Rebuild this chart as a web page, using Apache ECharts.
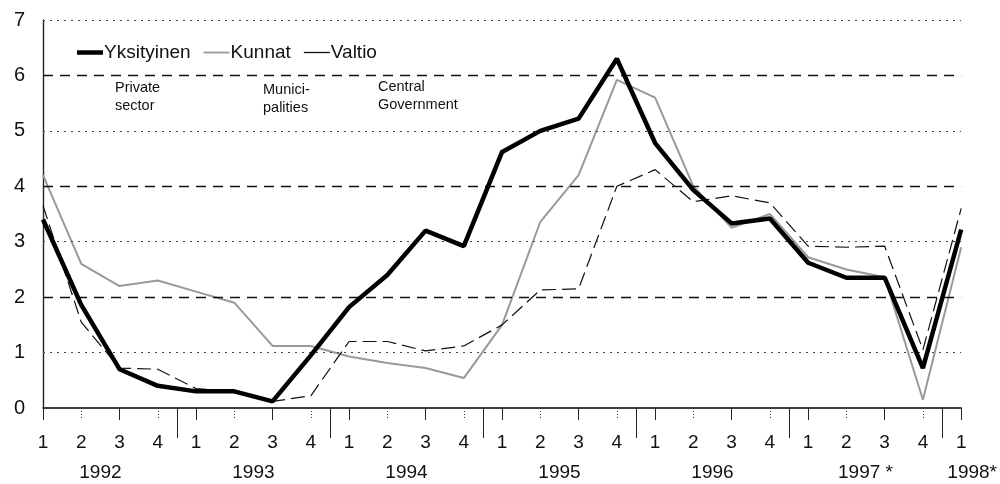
<!DOCTYPE html>
<html>
<head>
<meta charset="utf-8">
<script src="https://cdn.jsdelivr.net/npm/echarts@6/dist/echarts.min.js"></script>
<style>
  html, body { margin: 0; padding: 0; background: #fff; }
  #chart { width: 1000px; height: 484px; }
</style>
</head>
<body>
<div id="chart"></div>
<script>
// quarters 1992 Q1 .. 1998 Q1
var quarters = [
  '1992-1', '1992-2', '1992-3', '1992-4',
  '1993-1', '1993-2', '1993-3', '1993-4',
  '1994-1', '1994-2', '1994-3', '1994-4',
  '1995-1', '1995-2', '1995-3', '1995-4',
  '1996-1', '1996-2', '1996-3', '1996-4',
  '1997-1', '1997-2', '1997-3', '1997-4',
  '1998-1'
]
var yksityinen = [
  3.4, 1.86, 0.7, 0.4,
  0.3, 0.3, 0.12, 0.95,
  1.82, 2.4, 3.2, 2.92,
  4.62, 5.0, 5.22, 6.3,
  4.78, 3.93, 3.33, 3.42,
  2.62, 2.35, 2.35, 0.72,
  3.22
]
var kunnat = [
  4.2, 2.6, 2.2, 2.3,
  2.1, 1.9, 1.12, 1.12,
  0.93, 0.81, 0.72, 0.54,
  1.5, 3.36, 4.2, 5.92,
  5.6, 4.0, 3.25, 3.5,
  2.72, 2.5, 2.36, 0.15,
  2.9
]
var valtio = [
  3.65, 1.55, 0.72, 0.7,
  0.35, 0.3, 0.12, 0.22,
  1.2, 1.2, 1.03, 1.12,
  1.5, 2.13, 2.15, 4.0,
  4.3, 3.72, 3.83, 3.7,
  2.92, 2.9, 2.92, 1.05,
  3.6
]
// year row: label positions and separators on the quarter index scale
var yearCenters = [1.5, 5.5, 9.5, 13.5, 17.5, 21.5, 24]
var yearLabels = ['1992', '1993', '1994', '1995', '1996', '1997 *', '1998*']
var yearBreaks = [3.5, 7.5, 11.5, 15.5, 19.5, 23.5]
var dashedGrid = [2, 4, 6]
var dottedGrid = [1, 3, 5, 7]
// every second quarter gets a dotted tick instead of a solid one
var oddTicks = quarters.map(function (q, i) { return i }).filter(function (i) { return i % 2 === 1 })

var font = '"Liberation Sans", Arial, sans-serif'

var chart = echarts.init(document.getElementById('chart'))
chart.setOption({
  animation: false,
  textStyle: { fontFamily: font, color: '#111' },
  grid: { left: 43, right: 37, top: 20, bottom: 76 },
  legend: {
    left: 72,
    top: 38,
    itemWidth: 26,
    itemHeight: 14,
    itemGap: 13,
    data: [
      { name: 'Yksityinen', icon: 'path://M0,0H26V4.5H0Z' },
      { name: 'Kunnat', icon: 'path://M0,0H26V1.8H0Z' },
      { name: 'Valtio', icon: 'path://M0,0H26V1.3H0Z' }
    ],
    textStyle: { fontFamily: font, fontSize: 19, color: '#111', padding: [0, 0, 0, -4] }
  },
  xAxis: [
    {
      type: 'category',
      data: quarters,
      boundaryGap: false,
      axisLine: { lineStyle: { color: '#000', width: 1.5 } },
      axisTick: { interval: 1, length: 12, lineStyle: { color: '#222' } },
      axisLabel: {
        interval: 0,
        margin: 25,
        fontSize: 19,
        color: '#111',
        formatter: function (v) { return v.split('-')[1] }
      }
    },
    {
      type: 'value',
      min: 0,
      max: 24,
      position: 'bottom',
      offset: 47,
      axisLine: { show: false },
      splitLine: { show: false },
      axisTick: {
        show: true,
        customValues: yearBreaks,
        length: 30,
        lineStyle: { color: '#222' }
      },
      axisLabel: {
        customValues: yearCenters,
        margin: 8,
        fontSize: 19,
        color: '#111',
        formatter: function (v) {
          var i = yearCenters.indexOf(v)
          if (i === yearLabels.length - 1) {
            return '{l|' + yearLabels[i] + '}'
          }
          return yearLabels[i]
        },
        rich: {
          l: { fontSize: 19, fontFamily: font, color: '#111', padding: [0, 0, 0, 22] }
        }
      }
    },
    {
      type: 'value',
      min: 0,
      max: 24,
      position: 'bottom',
      offset: 0,
      axisLine: { show: false },
      splitLine: { show: false },
      axisLabel: { show: false },
      axisTick: {
        show: true,
        customValues: oddTicks,
        length: 12,
        lineStyle: { color: '#333', type: [1, 2] }
      }
    }
  ],
  yAxis: [
    {
      type: 'value',
      min: 0,
      max: 7,
      interval: 1,
      axisLine: { show: true, lineStyle: { color: '#222', width: 1.2 } },
      axisTick: { show: false },
      axisLabel: { margin: 18, fontSize: 20, color: '#111' },
      splitLine: { show: false }
    },
    {
      type: 'value',
      min: 0,
      max: 7,
      position: 'right',
      axisLine: { show: true, lineStyle: { color: '#222', width: 1.2 } },
      axisTick: { show: false },
      axisLabel: { show: false },
      splitLine: { show: false }
    }
  ],
  graphic: [
    { type: 'text', left: 115, top: 79, style: { text: 'Private\nsector', font: '14.5px ' + font, fill: '#111', lineHeight: 18 } },
    { type: 'text', left: 263, top: 81, style: { text: 'Munici-\npalities', font: '14.5px ' + font, fill: '#111', lineHeight: 18 } },
    { type: 'text', left: 378, top: 78, style: { text: 'Central\nGovernment', font: '14.5px ' + font, fill: '#111', lineHeight: 18 } }
  ],
  series: [
    {
      name: 'Kunnat',
      type: 'line',
      data: kunnat,
      symbol: 'none',
      z: 3,
      lineStyle: { color: '#999', width: 2 },
      itemStyle: { color: '#999' },
      markLine: {
        silent: true,
        symbol: 'none',
        label: { show: false },
        lineStyle: { color: '#111', type: [10, 7], width: 1.3 },
        data: dashedGrid.map(function (v) { return { yAxis: v } })
      }
    },
    {
      name: 'Valtio',
      type: 'line',
      data: valtio,
      symbol: 'none',
      z: 4,
      lineStyle: { color: '#111', width: 1.2, type: [14, 6] },
      itemStyle: { color: '#111' },
      markLine: {
        silent: true,
        symbol: 'none',
        label: { show: false },
        lineStyle: { color: '#444', type: [2, 5], width: 1 },
        data: dottedGrid.map(function (v) { return { yAxis: v } })
      }
    },
    {
      name: 'Yksityinen',
      type: 'line',
      data: yksityinen,
      symbol: 'none',
      z: 5,
      lineStyle: { color: '#000', width: 4.5 },
      itemStyle: { color: '#000' }
    }
  ]
})
</script>
</body>
</html>
